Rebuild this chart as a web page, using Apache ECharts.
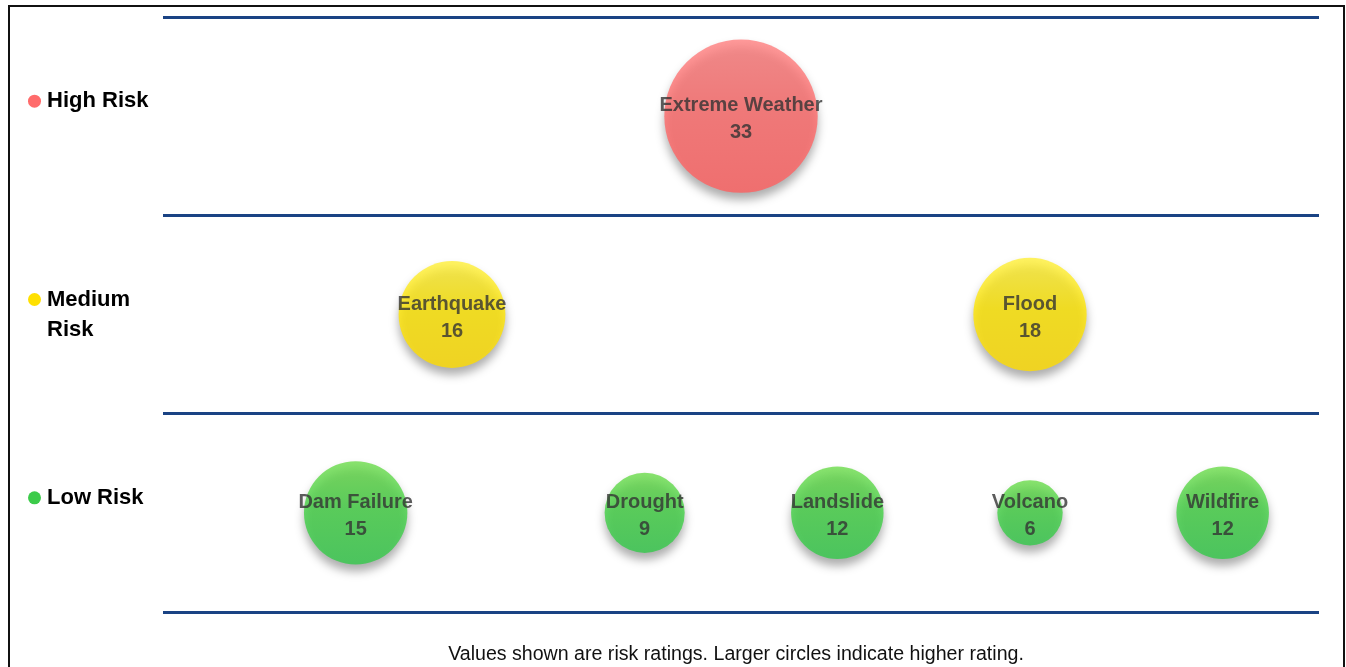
<!DOCTYPE html>
<html>
<head>
<meta charset="utf-8">
<script src="https://cdn.jsdelivr.net/npm/echarts@6/dist/echarts.min.js"></script>
<style>
  html, body { margin: 0; padding: 0; background: #fff; }
  #frame { position: absolute; left: 8px; top: 5px; width: 1337px; height: 680px; border: 2px solid #111; box-sizing: border-box; }
  #chart { position: absolute; left: 0; top: 0; width: 1346px; height: 667px; }
</style>
</head>
<body>
<div id="frame"></div>
<div id="chart"></div>
<script>
// Risk tiers, bottom to top
const riskLevels = ['Low Risk', 'Medium\nRisk', 'High Risk'];

// Hazards per tier: column position on a 0-12 grid and risk rating
const highNames = ['Extreme Weather'];
const highX = [6];
const highValues = [33];

const mediumNames = ['Earthquake', 'Flood'];
const mediumX = [3, 9];
const mediumValues = [16, 18];

const lowNames = ['Dam Failure', 'Drought', 'Landslide', 'Volcano', 'Wildfire'];
const lowX = [2, 5, 7, 9, 11];
const lowValues = [15, 9, 12, 6, 12];

const footnote = 'Values shown are risk ratings. Larger circles indicate higher rating.';

const FONT = '"Liberation Sans Narrow", "Arial Narrow", "Liberation Sans", Arial, sans-serif';

function rows(names, xs, vals, tier) {
  return names.map((n, i) => ({ name: n, value: [xs[i], tier + 0.5, vals[i]] }));
}

// soft top-to-bottom shading for each ball
function ball(top, mid, bottom) {
  return {
    type: 'linear', x: 0, y: 0, x2: 0, y2: 1,
    colorStops: [
      { offset: 0, color: top },
      { offset: 0.45, color: mid },
      { offset: 1, color: bottom }
    ]
  };
}

function bubbleSeries(name, data, color) {
  return {
    name: name,
    type: 'scatter',
    xAxisIndex: 0,
    yAxisIndex: 0,
    data: data,
    symbolSize: v => 26.7 * Math.sqrt(v[2]),
    itemStyle: {
      color: color,
      shadowBlur: 10,
      shadowOffsetY: 7,
      shadowColor: 'rgba(0,0,0,0.4)'
    },
    label: {
      show: true,
      position: 'inside',
      offset: [0, 3],
      formatter: p => p.name + '\n' + p.value[2],
      fontFamily: FONT,
      fontWeight: 'bold',
      fontSize: 20,
      lineHeight: 27,
      color: '#333'
    },
    emphasis: { disabled: true },
    silent: true
  };
}

const dotStyle = (c) => ({ width: 13, height: 13, borderRadius: 6.5, backgroundColor: c });

const chart = echarts.init(document.getElementById('chart'), null, { renderer: 'canvas' });
chart.setOption({
  animation: false,
  backgroundColor: 'transparent',
  title: {
    text: footnote,
    left: 731,
    top: 640,
    textAlign: 'center',
    textStyle: { fontFamily: FONT, fontWeight: 'normal', fontSize: 19.6, color: '#111' }
  },
  grid: { left: 163, right: 27, top: 17, bottom: 55 },
  xAxis: {
    type: 'value', min: 0, max: 12, interval: 1,
    axisLine: { show: false }, axisTick: { show: false },
    axisLabel: { show: false }, splitLine: { show: false }
  },
  yAxis: [
    {
      type: 'value', min: 0, max: 3, interval: 1,
      axisLine: { show: false }, axisTick: { show: false },
      axisLabel: { show: false },
      splitLine: { show: true, lineStyle: { color: '#1a4384', width: 3 } }
    },
    {
      type: 'category', position: 'left', data: riskLevels,
      axisLine: { show: false }, axisTick: { show: false }, splitLine: { show: false },
      axisLabel: {
        align: 'left',
        margin: 135,
        fontFamily: FONT,
        fontWeight: 'bold',
        fontSize: 22,
        color: '#000',
        formatter: (v) => {
          const parts = v.split('\n');
          if (parts.length === 1) parts.push('');
          const key = v === 'Low Risk' ? 'dl' : (v === 'High Risk' ? 'dh' : 'dm');
          return parts.map((p, i) => (i === 0 ? '{' + key + '|}' : '{sp|}') + '{t|' + p + '}').join('\n');
        },
        rich: {
          dl: dotStyle('#3ccb4a'),
          dm: dotStyle('#ffe000'),
          dh: dotStyle('#ff6b6b'),
          sp: { width: 13, lineHeight: 30 },
          t: { fontFamily: FONT, fontWeight: 'bold', fontSize: 22, color: '#000', padding: [0, 0, 0, 6], lineHeight: 30 }
        }
      }
    }
  ],
  series: [
    bubbleSeries('High Risk', rows(highNames, highX, highValues, 2), ball('#ff8080', '#ff6b6b', '#ff5f5f')),
    bubbleSeries('Medium Risk', rows(mediumNames, mediumX, mediumValues, 1), ball('#fff03a', '#ffe600', '#ffdc00')),
    bubbleSeries('Low Risk', rows(lowNames, lowX, lowValues, 0), ball('#6cdc4a', '#44d245', '#33c94a'))
  ]
});
</script>
</body>
</html>
